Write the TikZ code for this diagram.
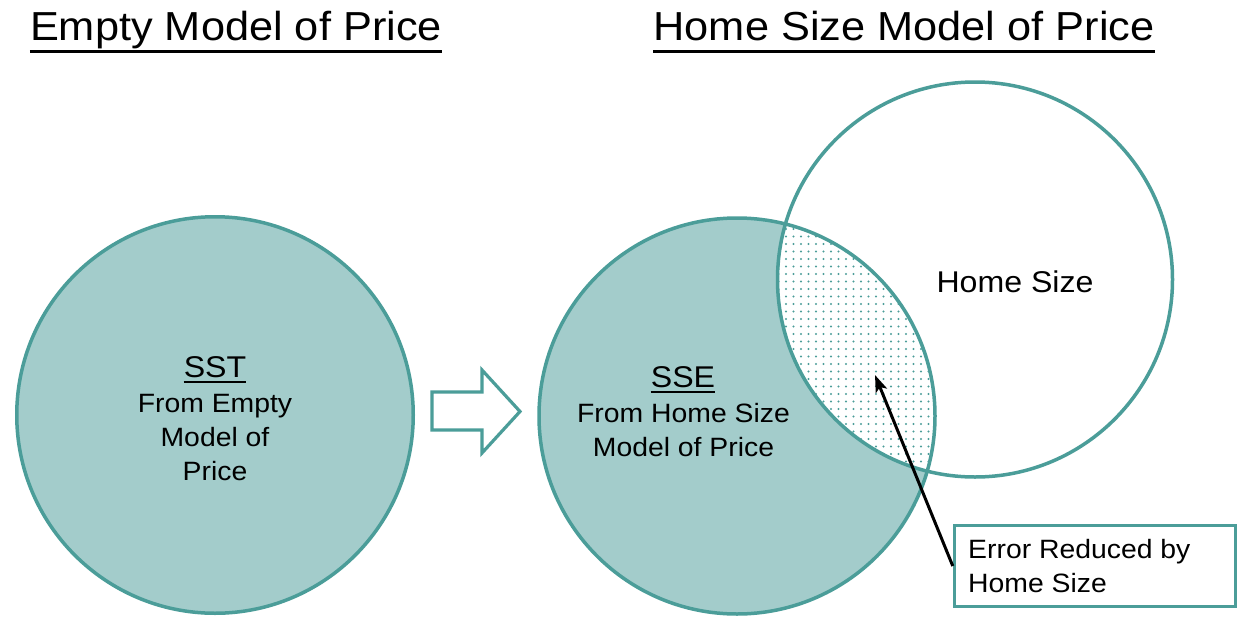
\documentclass[tikz,border=0pt]{standalone}
\usepackage{fontspec}
\setmainfont{Liberation Sans}[FakeStretch=1.07]
\usetikzlibrary{arrows.meta,calc}
\definecolor{teal1}{RGB}{75,157,153}
\definecolor{tealfill}{RGB}{163,204,203}
\begin{document}
\begin{tikzpicture}[x=1pt,y=-1pt,
  txt/.style={inner sep=0pt, anchor=base},
  titletxt/.style={txt, font=\fontsize{40.5}{46}\selectfont},
  bodytxt/.style={txt, font=\fontsize{26.5}{34}\selectfont},
  headtxt/.style={txt, font=\fontsize{30}{34}\selectfont},
  ring/.style={circle, draw=teal1, line width=3.5pt, inner sep=0pt},
  ulbig/.style={line width=3.2pt},
  ulsmall/.style={line width=2.6pt}]
\useasboundingbox (0,0) rectangle (1258,632);
\fill[white] (0,0) rectangle (1258,632);

% titles
\node[titletxt] (t1) at (236,40) {Empty Model of Price};
\draw[ulbig] ($(t1.base west)+(0,11.5)$) -- ($(t1.base east)+(0,11.5)$);
\node[titletxt] (t2) at (904,40) {Home Size Model of Price};
\draw[ulbig] ($(t2.base west)+(0,11.5)$) -- ($(t2.base east)+(0,11.5)$);

% left circle
\node[ring, fill=tealfill, minimum size=396.5pt] (c1) at (215,415) {};
\node[headtxt] (sst) at (215,377) {SST};
\draw[ulsmall] ($(sst.base west)+(0,5)$) -- ($(sst.base east)+(0,5)$);
\node[bodytxt] (l1) at (215,412) {From Empty};
\node[bodytxt] (l2) at (215,446) {Model of};
\node[bodytxt] (l3) at (215,480) {Price};

% block arrow
\draw[teal1, line width=3.2pt, line join=miter]
  (432,392) -- (482,392) -- (482,370) -- (520,411.5) -- (482,453) -- (482,430) -- (432,430) -- cycle;

% middle circle fill
\fill[tealfill] (737,416) circle (198pt);
% intersection, dotted
\begin{scope}
  \clip (737,416) circle (198pt);
  \clip (975,279.5) circle (197.5pt);
  \fill[white] (737,416) circle (198pt);
  \foreach \i in {0,...,23} {
    \foreach \j in {0,...,37} {
      \fill[teal1] (771+\i*7.5, 214+\j*7.5) circle (1.15pt);
    }
  }
\end{scope}
\node[ring, minimum size=396pt] (c2) at (737,416) {};
\node[ring, minimum size=395pt] (c3) at (975,279.5) {};

\node[headtxt] (sse) at (683,387) {SSE};
\draw[ulsmall] ($(sse.base west)+(0,5)$) -- ($(sse.base east)+(0,5)$);
\node[bodytxt] (m1) at (683.5,422) {From Home Size};
\node[bodytxt] (m2) at (683.5,456) {Model of Price};

\node[headtxt] (hs) at (1015,292) {Home Size};

% callout box
\node[draw=teal1, line width=3.5pt, fill=white, minimum width=281pt, minimum height=81pt, inner sep=0pt] (box) at (1095,566) {};
\node[bodytxt, anchor=base west] (b1) at (968,558) {Error Reduced by};
\node[bodytxt, anchor=base west] (b2) at (968,592) {Home Size};

\coordinate (tip) at (875,375);
\draw[line width=3pt, -{Stealth[length=17pt,width=12pt,inset=4pt]}] (box.west) -- (tip);
\end{tikzpicture}
\end{document}
